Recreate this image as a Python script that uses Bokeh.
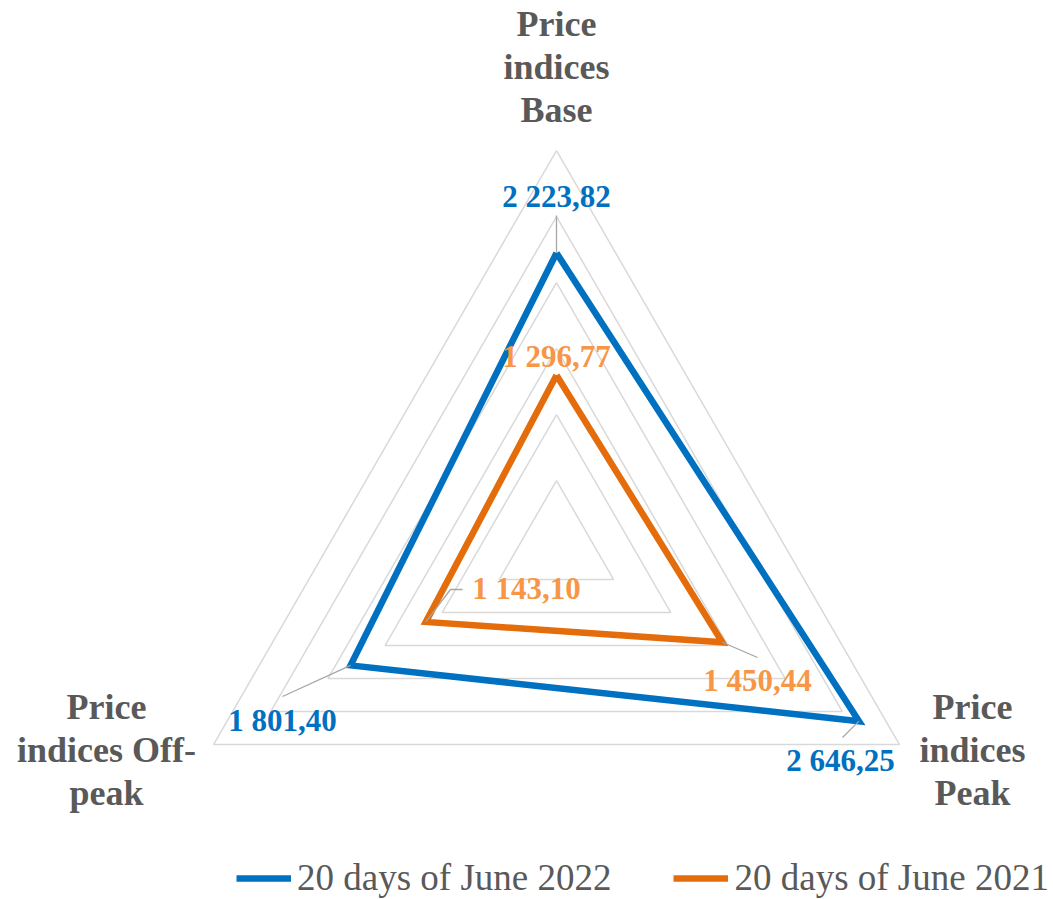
import math
from bokeh.plotting import figure
from bokeh.models import Range1d, Legend, LegendItem
from bokeh.core.properties import value
from bokeh.embed import file_html
from bokeh.resources import INLINE

# ---- data ----
categories = ["Price indices Base", "Price indices Peak", "Price indices Off-peak"]
cat_lines = [["Price", "indices", "Base"], ["Price", "indices", "Peak"], ["Price", "indices Off-", "peak"]]
series_names = ["20 days of June 2022", "20 days of June 2021"]
values_2022 = [2223.82, 2646.25, 1801.40]
values_2021 = [1296.77, 1450.44, 1143.10]
labels_2022 = ["2 223,82", "2 646,25", "1 801,40"]
labels_2021 = ["1 296,77", "1 450,44", "1 143,10"]
grid_levels = [500, 1000, 1500, 2000, 2500, 3000]

# ---- styles / layout ----
BLUE = "#0070C0"
ORANGE = "#E46C0A"
ORANGE_LBL = "#F79646"
GRAY_TXT = "#595959"
GRID = "#D9D9D9"
LEADER = "#A6A6A6"
FONT = value("Liberation Serif")

W, H = 1053, 899
OX, OY = 0, 0              # canvas origin in page pixels
CX, CY = 556, 546          # radar centre in page pixels
RMAX_PX = 396.0
VMAX = 3000.0
K = RMAX_PX / VMAX

def P(xp, yp):
    """page pixel -> data coords"""
    return ((xp - CX) / K, (CY - yp) / K)

angles = [math.radians(90), math.radians(-30), math.radians(210)]

def vert(v, i):
    return (v * math.cos(angles[i]), v * math.sin(angles[i]))

x0, y0 = P(OX, OY + H)
x1, y1 = P(OX + W, OY)

p = figure(width=W, height=H, output_backend="svg", toolbar_location=None,
           x_axis_type=None, y_axis_type=None,
           x_range=Range1d(x0, x1), y_range=Range1d(y0, y1),
           min_border=0, outline_line_color=None, background_fill_color="white")
p.grid.visible = False

# grid triangles
gx, gy = [], []
for lv in grid_levels:
    pts = [vert(lv, i) for i in range(3)] + [vert(lv, 0)]
    gx.append([q[0] for q in pts])
    gy.append([q[1] for q in pts])
p.multi_line(gx, gy, line_color=GRID, line_width=1.5)

# series
def closed(vals):
    pts = [vert(v, i) for i, v in enumerate(vals)] + [vert(vals[0], 0)]
    return [q[0] for q in pts], [q[1] for q in pts]

bx, by = closed(values_2022)
ox, oy = closed(values_2021)
r1 = p.line(bx, by, line_color=BLUE, line_width=6.5, line_join="miter")
r2 = p.line(ox, oy, line_color=ORANGE, line_width=6.5, line_join="miter")

# leader lines (from data vertex to label anchor)
leader_ends_2022 = [[(556, 215)], [(842, 737)], [(282, 696)]]
leader_ends_2021 = [None, [(757, 657)], [(450, 589), (462, 589)]]
lx, ly = [], []
for vals, ends in ((values_2022, leader_ends_2022), (values_2021, leader_ends_2021)):
    for i, e in enumerate(ends):
        if not e:
            continue
        vx, vy = vert(vals[i], i)
        xs, ys = [vx], [vy]
        for (a, b) in e:
            dx, dy = P(a, b)
            xs.append(dx); ys.append(dy)
        lx.append(xs); ly.append(ys)
p.multi_line(lx, ly, line_color=LEADER, line_width=1.3)

# text baseline correction (renderer places alphabetic baseline ~0.38em low)
def tb(yp, fs):
    return yp - 0.38 * fs

# data labels
DL_FS = 31
pos_2022 = [(556, 208), (840, 772), (282, 732)]
pos_2021 = [(556, 368), (757, 692), (526, 600)]
for labels, pos, col in ((labels_2022, pos_2022, BLUE), (labels_2021, pos_2021, ORANGE_LBL)):
    xs = [P(a, tb(b, DL_FS))[0] for a, b in pos]
    ys = [P(a, tb(b, DL_FS))[1] for a, b in pos]
    p.text(xs, ys, text=labels, text_color=col, text_font=FONT, text_font_style="bold",
           text_font_size=f"{DL_FS}px", text_align="center", text_baseline="alphabetic")

# category labels
CAT_FS = 36
cat_pos = [(556, 37), (972, 720), (106, 720)]
PITCH = 43
tx, ty, tt = [], [], []
for (cx, cy), lines in zip(cat_pos, cat_lines):
    for j, ln in enumerate(lines):
        d = P(cx, tb(cy + j * PITCH, CAT_FS))
        tx.append(d[0]); ty.append(d[1]); tt.append(ln)
p.text(tx, ty, text=tt, text_color=GRAY_TXT, text_font=FONT, text_font_style="bold",
       text_font_size=f"{CAT_FS}px", text_align="center", text_baseline="alphabetic")

# legend
legend = Legend(items=[LegendItem(label=series_names[0], renderers=[r1]),
                       LegendItem(label=series_names[1], renderers=[r2])],
                location=(236, 0), orientation="horizontal",
                glyph_width=55, glyph_height=20, label_standoff=6, spacing=62,
                padding=0, margin=0, border_line_alpha=0, background_fill_alpha=0,
                label_text_font="Liberation Serif", label_text_font_size="37px",
                label_text_color=GRAY_TXT)
p.add_layout(legend)

open("out.html", "w").write(file_html(p, INLINE))
